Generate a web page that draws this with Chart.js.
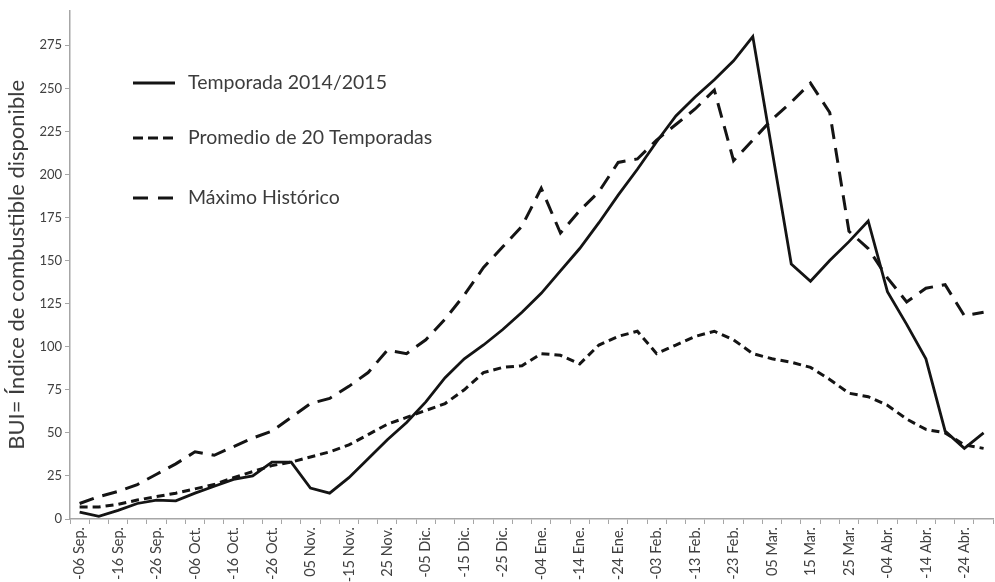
<!DOCTYPE html>
<html>
<head>
<meta charset="utf-8">
<script src="https://cdn.jsdelivr.net/npm/chart.js@4.4.1/dist/chart.umd.min.js"></script>
<style>
  html, body { margin: 0; padding: 0; background: #fff; overflow: hidden; }
  #wrap { width: 995px; height: 582px; overflow: hidden; }
</style>
</head>
<body>
<div id="wrap"><canvas id="chart" width="1004" height="582"></canvas></div>
<script>
// fechas cada 5 días (categorías del eje X)
const fechas = [
  '06 Sep.', '11 Sep.', '16 Sep.', '21 Sep.', '26 Sep.',
  '01 Oct.', '06 Oct.', '11 Oct.', '16 Oct.', '21 Oct.', '26 Oct.', '31 Oct.',
  '05 Nov.', '10 Nov.', '15 Nov.', '20 Nov.', '25 Nov.', '30 Nov.',
  '05 Dic.', '10 Dic.', '15 Dic.', '20 Dic.', '25 Dic.', '30 Dic.',
  '04 Ene.', '09 Ene.', '14 Ene.', '19 Ene.', '24 Ene.', '29 Ene.',
  '03 Feb.', '08 Feb.', '13 Feb.', '18 Feb.', '23 Feb.', '28 Feb.',
  '05 Mar.', '10 Mar.', '15 Mar.', '20 Mar.', '25 Mar.', '30 Mar.',
  '04 Abr.', '09 Abr.', '14 Abr.', '19 Abr.', '24 Abr.', '29 Abr.'
];

// etiquetas visibles (una de cada dos fechas)
const etiquetas = [
  '-06 Sep.', '-16 Sep.', '-26 Sep.', '-06 Oct.', '-16 Oct.', '-26 Oct.',
  '05 Nov.', '-15 Nov.', '25 Nov.', '-05 Dic.', '-15 Dic.', '-25 Dic.',
  '-04 Ene.', '-14 Ene.', '-24 Ene.', '-03 Feb.', '-13 Feb.', '-23 Feb.',
  '05 Mar.', '15 Mar.', '25 Mar.', '-04 Abr.', '-14 Abr.', '-24 Abr.'
];

const temporada = [
  4, 1.5, 5, 9, 11, 10.5, 15, 19, 23, 25, 33, 33,
  18, 15, 24, 35, 46, 56, 68, 82, 93, 101, 110, 120,
  131, 144, 157, 172, 188, 203, 219, 234, 245, 255, 266, 280,
  214, 148, 138, 150, 161, 173, 132, 113, 93, 51, 41, 50
];

const promedio = [
  7, 7, 8.5, 11, 13, 15, 17.5, 20, 24, 27.5, 31, 33,
  36, 39, 43, 49, 55, 59, 63, 67, 75, 85, 88, 89,
  96, 95, 90, 101, 106, 109, 96, 101, 106, 109, 104, 96,
  93, 91, 88, 81, 73, 71, 66, 58, 52, 50, 43, 41
];

const maximo = [
  9, 13, 16, 20, 26, 32, 39, 37, 42, 47, 51, 59,
  67, 70, 77, 85, 98, 96, 104, 116, 130, 146, 158, 170,
  192, 166, 179, 190, 207, 209, 220, 229, 238, 249, 208, 220,
  232, 242, 253, 236, 167, 157, 140, 126, 134, 136, 118, 120
];

const yTicks = [0, 25, 50, 75, 100, 125, 150, 175, 200, 225, 250, 275];

const FONT = 'Lato, "Open Sans", sans-serif';
const GRIS = '#a6a6a6';

// leyenda dentro del gráfico
const leyenda = {
  id: 'leyenda',
  afterDraw(chart) {
    const ctx = chart.ctx;
    const filas = [83, 138, 198];
    ctx.save();
    chart.data.datasets.forEach((ds, i) => {
      const y = filas[i];
      ctx.beginPath();
      ctx.strokeStyle = ds.borderColor;
      ctx.lineWidth = ds.borderWidth;
      ctx.setLineDash(ds.legendDash || []);
      ctx.moveTo(133, y);
      ctx.lineTo(175, y);
      ctx.stroke();
      ctx.setLineDash([]);
      ctx.fillStyle = '#3c3c3c';
      ctx.font = '19.5px ' + FONT;
      ctx.textBaseline = 'middle';
      ctx.fillText(ds.label, 188, y);
    });
    ctx.restore();
  }
};

new Chart(document.getElementById('chart').getContext('2d'), {
  type: 'line',
  data: {
    labels: fechas,
    datasets: [{
      label: 'Temporada 2014/2015',
      data: temporada,
      borderColor: '#141414',
      borderWidth: 2.8,
      pointRadius: 0,
      tension: 0
    }, {
      label: 'Promedio de 20 Temporadas',
      data: promedio,
      borderColor: '#141414',
      borderWidth: 3,
      borderDash: [8, 5],
      legendDash: [10, 5],
      pointRadius: 0,
      tension: 0
    }, {
      label: 'Máximo Histórico',
      data: maximo,
      borderColor: '#141414',
      borderWidth: 3,
      borderDash: [15, 9],
      legendDash: [15, 10],
      pointRadius: 0,
      tension: 0
    }]
  },
  options: {
    responsive: false,
    animation: false,
    layout: { padding: { top: 10, right: 0, bottom: 0, left: 0 } },
    plugins: {
      legend: { display: false },
      tooltip: { enabled: false }
    },
    scales: {
      x: {
        offset: true,
        grid: {
          offset: true,
          drawOnChartArea: false,
          tickLength: 5,
          color: GRIS
        },
        border: { color: GRIS, width: 1.5 },
        ticks: {
          autoSkip: false,
          minRotation: 90,
          maxRotation: 90,
          padding: 3,
          color: '#404040',
          font: { family: FONT, size: 14.5 },
          callback: (v, i) => (i % 2 === 0 ? etiquetas[i / 2] : '')
        },
        afterFit: (s) => { s.height = 63; }
      },
      y: {
        min: 0,
        max: 295,
        afterBuildTicks: (s) => { s.ticks = yTicks.map(v => ({ value: v })); },
        grid: {
          drawOnChartArea: false,
          tickLength: 5,
          color: GRIS
        },
        border: { color: GRIS, width: 1.5 },
        ticks: {
          padding: 3,
          color: '#404040',
          font: { family: FONT, size: 13 }
        },
        title: {
          display: true,
          text: 'BUI= Índice de combustible disponible',
          color: '#3c3c3c',
          font: { family: FONT, size: 22 },
          padding: { top: 4, bottom: 0 }
        },
        afterFit: (s) => { s.width = 70; }
      }
    }
  },
  plugins: [leyenda]
});
</script>
</body>
</html>
